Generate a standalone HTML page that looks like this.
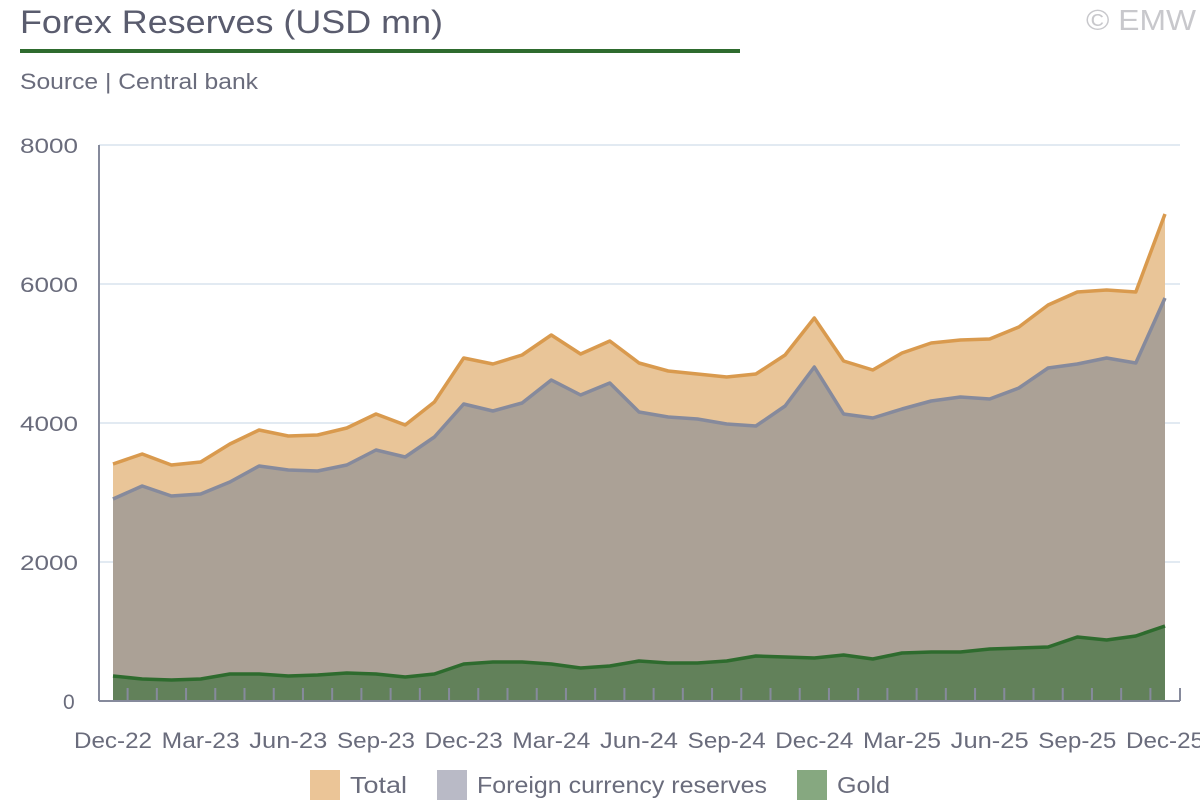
<!DOCTYPE html>
<html><head><meta charset="utf-8"><style>
body{margin:0;background:#fff;width:1200px;height:800px;overflow:hidden;font-family:"Liberation Sans",sans-serif}
</style></head><body>
<svg id="s" width="1200" height="800" xmlns="http://www.w3.org/2000/svg" font-family="Liberation Sans, sans-serif">
<text x="20" y="33" font-size="32" fill="#5a5c6e" textLength="423" lengthAdjust="spacingAndGlyphs">Forex Reserves (USD mn)</text>
<text x="1086" y="30" font-size="29" fill="#c8c8cc" textLength="110" lengthAdjust="spacingAndGlyphs">© EMW</text>
<rect x="20" y="49" width="720" height="4" fill="#2e6b2e"/>
<text x="20" y="89" font-size="22" fill="#6a6c7c" textLength="238" lengthAdjust="spacingAndGlyphs">Source | Central bank</text>
<g stroke="#d8e4ee" stroke-width="1.5">
<line x1="99" y1="145" x2="1180" y2="145"/><line x1="99" y1="284" x2="1180" y2="284"/>
<line x1="99" y1="423" x2="1180" y2="423"/><line x1="99" y1="562" x2="1180" y2="562"/>
</g>
<g font-size="21" fill="#6a6c7c" lengthAdjust="spacingAndGlyphs">
<text x="20" y="153" textLength="58" lengthAdjust="spacingAndGlyphs">8000</text><text x="20" y="292" textLength="58" lengthAdjust="spacingAndGlyphs">6000</text><text x="20" y="431" textLength="58" lengthAdjust="spacingAndGlyphs">4000</text><text x="20" y="570" textLength="58" lengthAdjust="spacingAndGlyphs">2000</text><text x="63" y="709">0</text>
</g>
<g id="areas"></g>
<g stroke="#868a9c" stroke-width="2" fill="none">
<line x1="99" y1="145" x2="99" y2="701"/><line x1="99" y1="701" x2="1180" y2="701"/>
<line x1="1180" y1="688" x2="1180" y2="701"/>
</g>
<g id="ticks" stroke="#868a9c" stroke-width="2"></g>
<g id="xl" font-size="22" fill="#6a6c7c"></g>
<rect x="310" y="770" width="30" height="30" fill="#ebc597"/>
<text x="350" y="793" font-size="23" fill="#6a6c7c" textLength="57" lengthAdjust="spacingAndGlyphs">Total</text>
<rect x="437" y="770" width="30" height="30" fill="#b9bac6"/>
<text x="477" y="793" font-size="23" fill="#6a6c7c" textLength="290" lengthAdjust="spacingAndGlyphs">Foreign currency reserves</text>
<rect x="797" y="770" width="30" height="30" fill="#86a880"/>
<text x="837" y="793" font-size="23" fill="#6a6c7c" textLength="53" lengthAdjust="spacingAndGlyphs">Gold</text>
</svg>
<script>
var T=[464,454,465,462,444,430,436,435,428,414,425,402,358,364,355,335,354,341,363,371,374,377,374,355,318,361,370,353,343,340,339,327,305,292,290,292,214];
var F=[499,486,496,494,482,466,470,471,465,450,457,437,404,411,403,380,395,383,412,417,419,424,426,406,367,414,418,409,401,397,399,388,368,364,358,363,298];
var G=[676,679,680,679,674,674,676,675,673,674,677,674,664,662,662,664,668,666,661,663,663,661,656,657,658,655,659,653,652,652,649,648,647,637,640,636,626];
var x0=113,dx=(1165-113)/36,ns="http://www.w3.org/2000/svg";
function pts(a){return a.map(function(y,i){return (x0+i*dx).toFixed(1)+","+y}).join(" ")}
function area(a){return "M"+x0+",701 L"+pts(a)+" L1165,701 Z"}
var g=document.getElementById("areas");
function add(p,tag,attrs,txt){var e=document.createElementNS(ns,tag);for(var k in attrs)e.setAttribute(k,attrs[k]);if(txt)e.textContent=txt;p.appendChild(e);}
add(g,"path",{d:area(T),fill:"#e9c598"});
add(g,"path",{d:area(F),fill:"#aba196"});
add(g,"path",{d:area(G),fill:"#62815a"});
add(g,"polyline",{points:pts(T),fill:"none",stroke:"#d99a4e","stroke-width":3.5,"stroke-linejoin":"round"});
add(g,"polyline",{points:pts(F),fill:"none",stroke:"#868a9c","stroke-width":3.5,"stroke-linejoin":"round"});
add(g,"polyline",{points:pts(G),fill:"none",stroke:"#2e6b2e","stroke-width":3.5,"stroke-linejoin":"round"});
var t=document.getElementById("ticks");
for(var i=0;i<36;i++){var x=x0+dx*(i+0.5);add(t,"line",{x1:x,x2:x,y1:688,y2:701});}
var L=["Dec-22","Mar-23","Jun-23","Sep-23","Dec-23","Mar-24","Jun-24","Sep-24","Dec-24","Mar-25","Jun-25","Sep-25","Dec-25"];
var xl=document.getElementById("xl");
for(var j=0;j<13;j++){var cx=x0+j*3*dx;add(xl,"text",{x:(cx-39).toFixed(1),y:748,textLength:78,lengthAdjust:"spacingAndGlyphs"},L[j]);}
</script>
</body></html>
